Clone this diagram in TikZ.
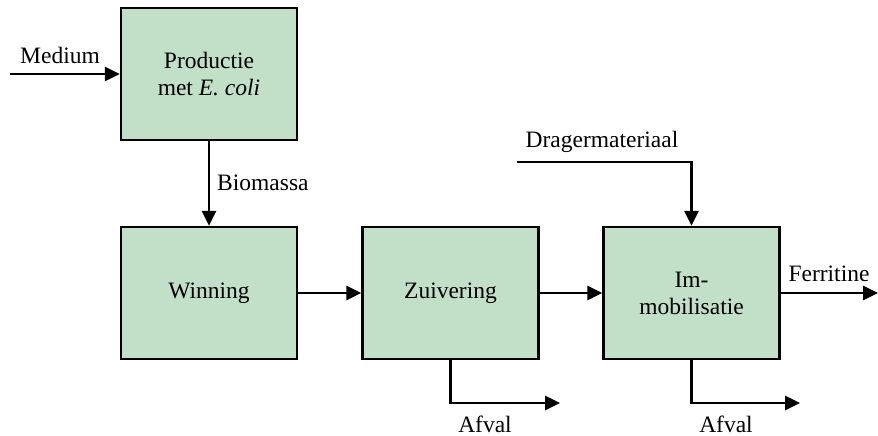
\documentclass[tikz,border=0pt]{standalone}
\usepackage{fontspec}
\setmainfont{Liberation Serif}
\usetikzlibrary{arrows.meta}
\definecolor{boxgreen}{RGB}{194,224,199}
\begin{document}
\begin{tikzpicture}[x=1pt,y=-1pt,
  proc/.style={draw=black, line width=2.3pt, fill=boxgreen, minimum width=176pt,
    minimum height=132pt, inner sep=0pt, align=center,
    font=\fontsize{23.5}{27}\selectfont},
  lbl/.style={inner sep=0pt, font=\fontsize{23.5}{27}\selectfont},
  flow/.style={line width=2.6pt, -{Triangle[length=15pt,width=14pt]}}]
\useasboundingbox (0,0) rectangle (878,436);

% process blocks
\node[proc] (prod) at (209,74) {Productie\\met \textit{E. coli}};
\node[proc] (win) at (209,293) {Winning};
\node[proc] (zuiv) at (450.5,293) {Zuivering};
\node[proc] (immob) at (691.5,293) {Im-\\mobilisatie};

% free ends of the streams
\coordinate (medin) at (10,74);
\coordinate (dragin) at (517,162);
\coordinate (ferout) at (878,293);
\coordinate (afval1) at (560,403);
\coordinate (afval2) at (800,403);

% streams
\draw[flow] (medin) -- (prod.west);
\draw[flow] (prod.south) -- (win.north);
\draw[flow] (win.east) -- (zuiv.west);
\draw[flow] (zuiv.east) -- (immob.west);
\draw[flow] (dragin) -| (immob.north);
\draw[flow] (immob.east) -- (ferout);
\draw[flow] (zuiv.south) |- (afval1);
\draw[flow] (immob.south) |- (afval2);

% stream labels
\node[lbl] (lmed) at (60,55) {Medium};
\node[lbl, anchor=west] (lbio) at (217,183) {Biomassa};
\node[lbl] (ldrag) at (602,142) {Dragermateriaal};
\node[lbl] (lfer) at (829,274) {Ferritine};
\node[lbl] (laf1) at (485,424) {Afval};
\node[lbl] (laf2) at (726,424) {Afval};
\end{tikzpicture}
\end{document}
